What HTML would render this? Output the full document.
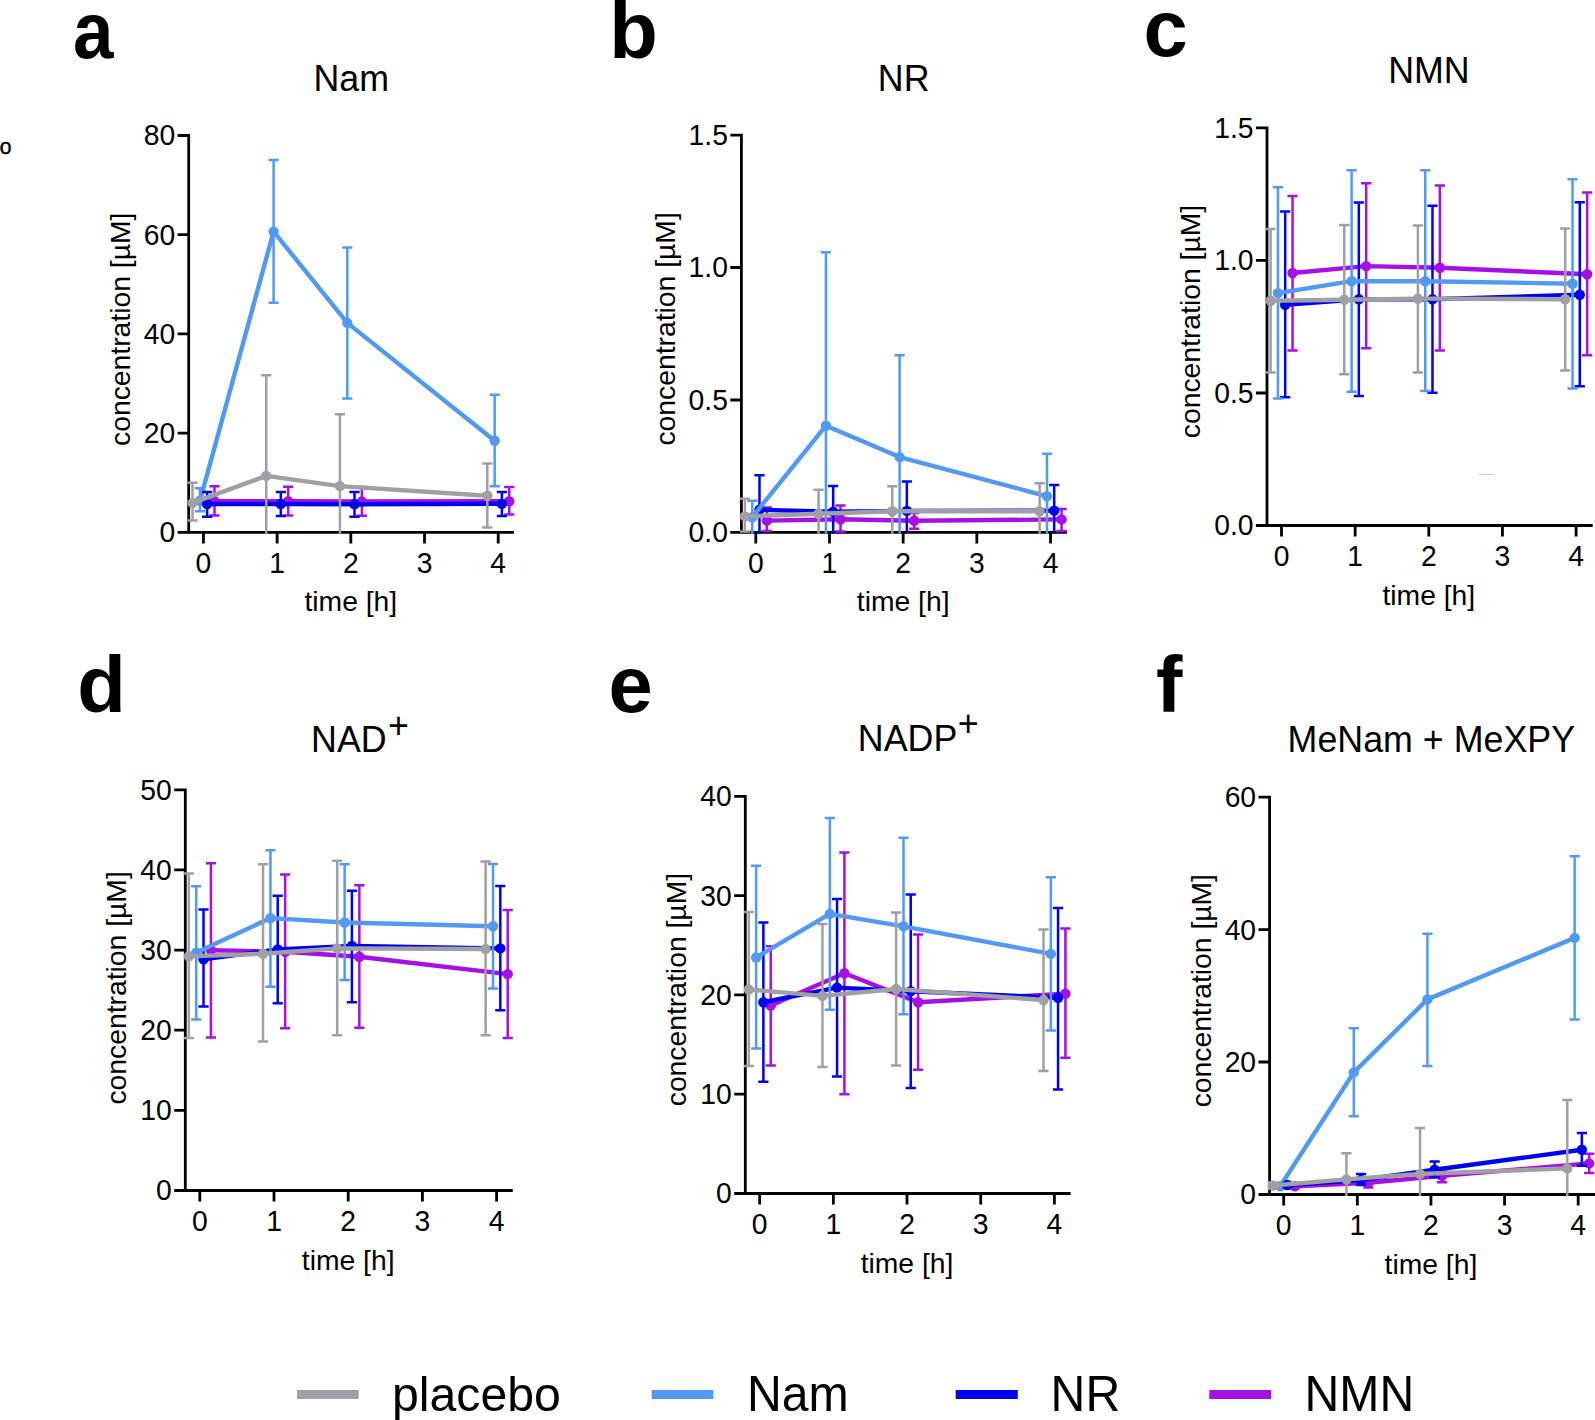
<!DOCTYPE html>
<html lang="en">
<head>
<meta charset="utf-8">
<title>Figure: concentration time courses (Nam, NR, NMN, NAD+, NADP+, MeNam + MeXPY)</title>
<style>
html,body{margin:0;padding:0;background:#fff;}
body{width:1595px;height:1420px;overflow:hidden;font-family:"Liberation Sans",sans-serif;}
svg{display:block;}
</style>
</head>
<body>
<svg width="1595" height="1420" viewBox="0 0 1595 1420" font-family="'Liberation Sans', sans-serif" fill="#000">
<rect width="1595" height="1420" fill="#fff"/>
<g id="panel-a">
<path d="M188.7 134.1V533.8M177.6 532.4H513.9M177.6 532.4H188.7M177.6 433.2H188.7M177.6 333.95H188.7M177.6 234.7H188.7M177.6 135.5H188.7M203.45 532.4V543.5M277.14 532.4V543.5M350.83 532.4V543.5M424.52 532.4V543.5M498.21 532.4V543.5" fill="none" stroke="#000" stroke-width="2.8"/>
<g stroke="#a610e2" fill="#a610e2">
<path d="M214.5 486.3V515.4M209.4 486.3H219.6M209.4 515.4H219.6M288.19 486.8V515.6M283.09 486.8H293.29M283.09 515.6H293.29M361.88 487V515.8M356.78 487H366.98M356.78 515.8H366.98M509.26 487V514.6M504.16 487H514.36M504.16 514.6H514.36" fill="none" stroke-width="2.5"/>
<polyline points="214.5,501.2 288.19,501.2 361.88,501.5 509.26,501.2" fill="none" stroke-width="4.4" stroke-linejoin="round"/>
<circle cx="214.5" cy="501.2" r="5.2" stroke="none"/>
<circle cx="288.19" cy="501.2" r="5.2" stroke="none"/>
<circle cx="361.88" cy="501.5" r="5.2" stroke="none"/>
<circle cx="509.26" cy="501.2" r="5.2" stroke="none"/>
</g>
<g stroke="#5299f2" fill="#5299f2">
<path d="M199.91 488.3V511.2M194.81 488.3H205.01M194.81 511.2H205.01M273.6 160.1V302.8M268.5 160.1H278.7M268.5 302.8H278.7M347.29 247.6V398.6M342.19 247.6H352.39M342.19 398.6H352.39M494.67 394.8V486.3M489.57 394.8H499.77M489.57 486.3H499.77" fill="none" stroke-width="2.5"/>
<polyline points="199.91,500.8 273.6,231.6 347.29,322.9 494.67,440.8" fill="none" stroke-width="4.4" stroke-linejoin="round"/>
<circle cx="199.91" cy="500.8" r="5.2" stroke="none"/>
<circle cx="273.6" cy="231.6" r="5.2" stroke="none"/>
<circle cx="347.29" cy="322.9" r="5.2" stroke="none"/>
<circle cx="494.67" cy="440.8" r="5.2" stroke="none"/>
</g>
<g stroke="#0101ee" fill="#0101ee">
<path d="M207.13 491.9V516.7M202.03 491.9H212.23M202.03 516.7H212.23M280.82 491.9V516M275.72 491.9H285.92M275.72 516H285.92M354.51 491.9V516.7M349.41 491.9H359.61M349.41 516.7H359.61M501.89 491.9V516M496.79 491.9H506.99M496.79 516H506.99" fill="none" stroke-width="2.5"/>
<polyline points="207.13,504 280.82,504 354.51,504.3 501.89,503.7" fill="none" stroke-width="4.4" stroke-linejoin="round"/>
<circle cx="207.13" cy="504" r="5.2" stroke="none"/>
<circle cx="280.82" cy="504" r="5.2" stroke="none"/>
<circle cx="354.51" cy="504.3" r="5.2" stroke="none"/>
<circle cx="501.89" cy="503.7" r="5.2" stroke="none"/>
</g>
<g stroke="#a0a0a4" fill="#a0a0a4">
<path d="M192.54 482.8V520.6M187.44 482.8H197.64M187.44 520.6H197.64M266.23 375.2V533.8M261.13 375.2H271.33M339.92 414.3V533.8M334.82 414.3H345.02M487.3 463.4V527.4M482.2 463.4H492.4M482.2 527.4H492.4" fill="none" stroke-width="2.5"/>
<polyline points="192.54,502.9 266.23,475.9 339.92,486.1 487.3,495.7" fill="none" stroke-width="4.4" stroke-linejoin="round"/>
<circle cx="192.54" cy="502.9" r="5.2" stroke="none"/>
<circle cx="266.23" cy="475.9" r="5.2" stroke="none"/>
<circle cx="339.92" cy="486.1" r="5.2" stroke="none"/>
<circle cx="487.3" cy="495.7" r="5.2" stroke="none"/>
</g>
<g class="ticks">
<text transform="translate(175.2 542.3) scale(0.9569 1)" font-size="29.57" text-anchor="end">0</text>
<text transform="translate(175.2 443.1) scale(0.9569 1)" font-size="29.57" text-anchor="end">20</text>
<text transform="translate(175.2 343.85) scale(0.9569 1)" font-size="29.57" text-anchor="end">40</text>
<text transform="translate(175.2 244.6) scale(0.9569 1)" font-size="29.57" text-anchor="end">60</text>
<text transform="translate(175.2 145.4) scale(0.9569 1)" font-size="29.57" text-anchor="end">80</text>
<text transform="translate(203.45 572.7) scale(0.9569 1)" font-size="29.57" text-anchor="middle">0</text>
<text transform="translate(277.14 572.7) scale(0.9569 1)" font-size="29.57" text-anchor="middle">1</text>
<text transform="translate(350.83 572.7) scale(0.9569 1)" font-size="29.57" text-anchor="middle">2</text>
<text transform="translate(424.52 572.7) scale(0.9569 1)" font-size="29.57" text-anchor="middle">3</text>
<text transform="translate(498.21 572.7) scale(0.9569 1)" font-size="29.57" text-anchor="middle">4</text>
</g>
<text x="350.83" y="611.4" font-size="28.3" text-anchor="middle">time [h]</text>
<text transform="translate(130 329.3) rotate(-90)" font-size="28.3" text-anchor="middle">concentration [µM]</text>
<text transform="translate(351.2 90.6) scale(0.9569 1)" font-size="37.41" text-anchor="middle">Nam</text>
<text transform="translate(73.1 57.9) scale(0.915 1)" font-size="79.5" font-weight="bold">a</text>
</g>
<g id="panel-b">
<path d="M741.4 133.7V533.8M730.3 532.4H1067M730.3 532.4H741.4M730.3 400H741.4M730.3 267.5H741.4M730.3 135.1H741.4M755.8 532.4V543.5M829.48 532.4V543.5M903.16 532.4V543.5M976.84 532.4V543.5M1050.52 532.4V543.5" fill="none" stroke="#000" stroke-width="2.8"/>
<g stroke="#a610e2" fill="#a610e2">
<path d="M766.85 507.6V531M761.75 507.6H771.95M761.75 531H771.95M840.53 505.4V531.6M835.43 505.4H845.63M835.43 531.6H845.63M914.21 513V528.8M909.11 513H919.31M909.11 528.8H919.31M1061.57 509V531M1056.47 509H1066.67M1056.47 531H1066.67" fill="none" stroke-width="2.5"/>
<polyline points="766.85,520.6 840.53,519.2 914.21,520.8 1061.57,519.4" fill="none" stroke-width="4.4" stroke-linejoin="round"/>
<circle cx="766.85" cy="520.6" r="5.2" stroke="none"/>
<circle cx="840.53" cy="519.2" r="5.2" stroke="none"/>
<circle cx="914.21" cy="520.8" r="5.2" stroke="none"/>
<circle cx="1061.57" cy="519.4" r="5.2" stroke="none"/>
</g>
<g stroke="#0101ee" fill="#0101ee">
<path d="M759.48 475.3V533.8M754.38 475.3H764.58M833.16 486.1V533.8M828.06 486.1H838.26M906.84 481.4V533.8M901.74 481.4H911.94M1054.2 485V533.8M1049.1 485H1059.3" fill="none" stroke-width="2.5"/>
<polyline points="759.48,509.8 833.16,511.7 906.84,510.9 1054.2,510.6" fill="none" stroke-width="4.4" stroke-linejoin="round"/>
<circle cx="759.48" cy="509.8" r="5.2" stroke="none"/>
<circle cx="833.16" cy="511.7" r="5.2" stroke="none"/>
<circle cx="906.84" cy="510.9" r="5.2" stroke="none"/>
<circle cx="1054.2" cy="510.6" r="5.2" stroke="none"/>
</g>
<g stroke="#5299f2" fill="#5299f2">
<path d="M752.26 500.7V533.8M747.16 500.7H757.36M825.94 252.3V533.8M820.84 252.3H831.04M899.62 355.2V533.8M894.52 355.2H904.72M1046.98 453.8V533.8M1041.88 453.8H1052.08" fill="none" stroke-width="2.5"/>
<polyline points="752.26,517.2 825.94,425.7 899.62,457.1 1046.98,496.3" fill="none" stroke-width="4.4" stroke-linejoin="round"/>
<circle cx="752.26" cy="517.2" r="5.2" stroke="none"/>
<circle cx="825.94" cy="425.7" r="5.2" stroke="none"/>
<circle cx="899.62" cy="457.1" r="5.2" stroke="none"/>
<circle cx="1046.98" cy="496.3" r="5.2" stroke="none"/>
</g>
<g stroke="#a0a0a4" fill="#a0a0a4">
<path d="M744.9 498.8V531.6M739.8 498.8H750M739.8 531.6H750M818.58 489.7V533.8M813.48 489.7H823.68M892.26 486.3V533.8M887.16 486.3H897.36M1039.62 483.3V533.8M1034.52 483.3H1044.72" fill="none" stroke-width="2.5"/>
<polyline points="744.9,516.4 818.58,513.7 892.26,511.2 1039.62,511.2" fill="none" stroke-width="4.4" stroke-linejoin="round"/>
<circle cx="744.9" cy="516.4" r="5.2" stroke="none"/>
<circle cx="818.58" cy="513.7" r="5.2" stroke="none"/>
<circle cx="892.26" cy="511.2" r="5.2" stroke="none"/>
<circle cx="1039.62" cy="511.2" r="5.2" stroke="none"/>
</g>
<g class="ticks">
<text transform="translate(727.9 542.3) scale(0.9569 1)" font-size="29.57" text-anchor="end">0.0</text>
<text transform="translate(727.9 409.9) scale(0.9569 1)" font-size="29.57" text-anchor="end">0.5</text>
<text transform="translate(727.9 277.4) scale(0.9569 1)" font-size="29.57" text-anchor="end">1.0</text>
<text transform="translate(727.9 145) scale(0.9569 1)" font-size="29.57" text-anchor="end">1.5</text>
<text transform="translate(755.8 572.7) scale(0.9569 1)" font-size="29.57" text-anchor="middle">0</text>
<text transform="translate(829.48 572.7) scale(0.9569 1)" font-size="29.57" text-anchor="middle">1</text>
<text transform="translate(903.16 572.7) scale(0.9569 1)" font-size="29.57" text-anchor="middle">2</text>
<text transform="translate(976.84 572.7) scale(0.9569 1)" font-size="29.57" text-anchor="middle">3</text>
<text transform="translate(1050.52 572.7) scale(0.9569 1)" font-size="29.57" text-anchor="middle">4</text>
</g>
<text x="903.16" y="611.4" font-size="28.3" text-anchor="middle">time [h]</text>
<text transform="translate(675 328.9) rotate(-90)" font-size="28.3" text-anchor="middle">concentration [µM]</text>
<text transform="translate(903.7 90.5) scale(0.9569 1)" font-size="37.41" text-anchor="middle">NR</text>
<text x="609.3" y="57.7" font-size="79.5" font-weight="bold">b</text>
</g>
<g id="panel-c">
<path d="M1267 126.5V526.9M1255.9 525.5H1592.7M1255.9 525.5H1267M1255.9 393H1267M1255.9 260.4H1267M1255.9 127.9H1267M1281.5 525.5V536.6M1355.15 525.5V536.6M1428.8 525.5V536.6M1502.45 525.5V536.6M1576.1 525.5V536.6" fill="none" stroke="#000" stroke-width="2.8"/>
<g stroke="#a610e2" fill="#a610e2">
<path d="M1292.55 196V350.5M1287.45 196H1297.65M1287.45 350.5H1297.65M1366.2 183.3V348.3M1361.1 183.3H1371.3M1361.1 348.3H1371.3M1439.85 185.5V350.5M1434.75 185.5H1444.95M1434.75 350.5H1444.95M1587.15 192.4V355.2M1582.05 192.4H1592.25M1582.05 355.2H1592.25" fill="none" stroke-width="2.5"/>
<polyline points="1292.55,273 1366.2,266.1 1439.85,267.7 1587.15,274.3" fill="none" stroke-width="4.4" stroke-linejoin="round"/>
<circle cx="1292.55" cy="273" r="5.2" stroke="none"/>
<circle cx="1366.2" cy="266.1" r="5.2" stroke="none"/>
<circle cx="1439.85" cy="267.7" r="5.2" stroke="none"/>
<circle cx="1587.15" cy="274.3" r="5.2" stroke="none"/>
</g>
<g stroke="#0101ee" fill="#0101ee">
<path d="M1285.18 211.4V397.2M1280.08 211.4H1290.28M1280.08 397.2H1290.28M1358.83 202.6V395.9M1353.73 202.6H1363.93M1353.73 395.9H1363.93M1432.48 205.7V392.8M1427.38 205.7H1437.58M1427.38 392.8H1437.58M1579.78 202.3V386.2M1574.68 202.3H1584.88M1574.68 386.2H1584.88" fill="none" stroke-width="2.5"/>
<polyline points="1285.18,304.7 1358.83,299.2 1432.48,299.2 1579.78,294.8" fill="none" stroke-width="4.4" stroke-linejoin="round"/>
<circle cx="1285.18" cy="304.7" r="5.2" stroke="none"/>
<circle cx="1358.83" cy="299.2" r="5.2" stroke="none"/>
<circle cx="1432.48" cy="299.2" r="5.2" stroke="none"/>
<circle cx="1579.78" cy="294.8" r="5.2" stroke="none"/>
</g>
<g stroke="#5299f2" fill="#5299f2">
<path d="M1277.96 187.2V398.6M1272.86 187.2H1283.06M1272.86 398.6H1283.06M1351.61 170.3V391.7M1346.51 170.3H1356.71M1346.51 391.7H1356.71M1425.26 170.3V390.9M1420.16 170.3H1430.36M1420.16 390.9H1430.36M1572.56 179.2V388.4M1567.46 179.2H1577.66M1567.46 388.4H1577.66" fill="none" stroke-width="2.5"/>
<polyline points="1277.96,293.1 1351.61,281.2 1425.26,281.2 1572.56,283.7" fill="none" stroke-width="4.4" stroke-linejoin="round"/>
<circle cx="1277.96" cy="293.1" r="5.2" stroke="none"/>
<circle cx="1351.61" cy="281.2" r="5.2" stroke="none"/>
<circle cx="1425.26" cy="281.2" r="5.2" stroke="none"/>
<circle cx="1572.56" cy="283.7" r="5.2" stroke="none"/>
</g>
<g stroke="#a0a0a4" fill="#a0a0a4">
<path d="M1270.6 229.1V372.4M1265.5 229.1H1275.7M1265.5 372.4H1275.7M1344.25 225V374.3M1339.15 225H1349.35M1339.15 374.3H1349.35M1417.9 225.5V372.4M1412.8 225.5H1423M1412.8 372.4H1423M1565.2 228.6V370.5M1560.1 228.6H1570.3M1560.1 370.5H1570.3" fill="none" stroke-width="2.5"/>
<polyline points="1270.6,300.8 1344.25,299.7 1417.9,298.6 1565.2,299.2" fill="none" stroke-width="4.4" stroke-linejoin="round"/>
<circle cx="1270.6" cy="300.8" r="5.2" stroke="none"/>
<circle cx="1344.25" cy="299.7" r="5.2" stroke="none"/>
<circle cx="1417.9" cy="298.6" r="5.2" stroke="none"/>
<circle cx="1565.2" cy="299.2" r="5.2" stroke="none"/>
</g>
<g class="ticks">
<text transform="translate(1253.5 535.4) scale(0.9569 1)" font-size="29.57" text-anchor="end">0.0</text>
<text transform="translate(1253.5 402.9) scale(0.9569 1)" font-size="29.57" text-anchor="end">0.5</text>
<text transform="translate(1253.5 270.3) scale(0.9569 1)" font-size="29.57" text-anchor="end">1.0</text>
<text transform="translate(1253.5 137.8) scale(0.9569 1)" font-size="29.57" text-anchor="end">1.5</text>
<text transform="translate(1281.5 565.8) scale(0.9569 1)" font-size="29.57" text-anchor="middle">0</text>
<text transform="translate(1355.15 565.8) scale(0.9569 1)" font-size="29.57" text-anchor="middle">1</text>
<text transform="translate(1428.8 565.8) scale(0.9569 1)" font-size="29.57" text-anchor="middle">2</text>
<text transform="translate(1502.45 565.8) scale(0.9569 1)" font-size="29.57" text-anchor="middle">3</text>
<text transform="translate(1576.1 565.8) scale(0.9569 1)" font-size="29.57" text-anchor="middle">4</text>
</g>
<text x="1428.8" y="604.5" font-size="28.3" text-anchor="middle">time [h]</text>
<text transform="translate(1200.4 321.5) rotate(-90)" font-size="28.3" text-anchor="middle">concentration [µM]</text>
<text transform="translate(1428.9 83.3) scale(0.9569 1)" font-size="37.41" text-anchor="middle">NMN</text>
<text x="1143.4" y="55.9" font-size="79.5" font-weight="bold">c</text>
</g>
<g id="panel-d">
<path d="M185.3 788.4V1191.9M174.2 1190.5H512.8M174.2 1190.5H185.3M174.2 1110.35H185.3M174.2 1030.2H185.3M174.2 950.1H185.3M174.2 869.95H185.3M174.2 789.8H185.3M199.8 1190.5V1201.6M274 1190.5V1201.6M348.2 1190.5V1201.6M422.4 1190.5V1201.6M496.6 1190.5V1201.6" fill="none" stroke="#000" stroke-width="2.8"/>
<g stroke="#a610e2" fill="#a610e2">
<path d="M210.93 863.2V1037.4M205.83 863.2H216.03M205.83 1037.4H216.03M285.13 874.5V1028.3M280.03 874.5H290.23M280.03 1028.3H290.23M359.33 885.2V1027.7M354.23 885.2H364.43M354.23 1027.7H364.43M507.73 910.1V1037.9M502.63 910.1H512.83M502.63 1037.9H512.83" fill="none" stroke-width="2.5"/>
<polyline points="210.93,950.3 285.13,951.7 359.33,956.7 507.73,974.1" fill="none" stroke-width="4.4" stroke-linejoin="round"/>
<circle cx="210.93" cy="950.3" r="5.2" stroke="none"/>
<circle cx="285.13" cy="951.7" r="5.2" stroke="none"/>
<circle cx="359.33" cy="956.7" r="5.2" stroke="none"/>
<circle cx="507.73" cy="974.1" r="5.2" stroke="none"/>
</g>
<g stroke="#0101ee" fill="#0101ee">
<path d="M203.51 909.5V1006.6M198.41 909.5H208.61M198.41 1006.6H208.61M277.71 895.7V1003.3M272.61 895.7H282.81M272.61 1003.3H282.81M351.91 890.8V1002.2M346.81 890.8H357.01M346.81 1002.2H357.01M500.31 886.1V1010.2M495.21 886.1H505.41M495.21 1010.2H505.41" fill="none" stroke-width="2.5"/>
<polyline points="203.51,959.2 277.71,949.5 351.91,945.9 500.31,948.4" fill="none" stroke-width="4.4" stroke-linejoin="round"/>
<circle cx="203.51" cy="959.2" r="5.2" stroke="none"/>
<circle cx="277.71" cy="949.5" r="5.2" stroke="none"/>
<circle cx="351.91" cy="945.9" r="5.2" stroke="none"/>
<circle cx="500.31" cy="948.4" r="5.2" stroke="none"/>
</g>
<g stroke="#5299f2" fill="#5299f2">
<path d="M196.24 886.3V1019.5M191.14 886.3H201.34M191.14 1019.5H201.34M270.44 850.2V986.8M265.34 850.2H275.54M265.34 986.8H275.54M344.64 864.3V979.9M339.54 864.3H349.74M339.54 979.9H349.74M493.04 864V988.4M487.94 864H498.14M487.94 988.4H498.14" fill="none" stroke-width="2.5"/>
<polyline points="196.24,952.6 270.44,918.1 344.64,922.5 493.04,926.3" fill="none" stroke-width="4.4" stroke-linejoin="round"/>
<circle cx="196.24" cy="952.6" r="5.2" stroke="none"/>
<circle cx="270.44" cy="918.1" r="5.2" stroke="none"/>
<circle cx="344.64" cy="922.5" r="5.2" stroke="none"/>
<circle cx="493.04" cy="926.3" r="5.2" stroke="none"/>
</g>
<g stroke="#a0a0a4" fill="#a0a0a4">
<path d="M188.82 873.4V1037.9M183.72 873.4H193.92M183.72 1037.9H193.92M263.02 864.3V1041.5M257.92 864.3H268.12M257.92 1041.5H268.12M337.22 860.7V1035.2M332.12 860.7H342.32M332.12 1035.2H342.32M485.62 861.5V1035.2M480.52 861.5H490.72M480.52 1035.2H490.72" fill="none" stroke-width="2.5"/>
<polyline points="188.82,956.4 263.02,953.7 337.22,948.4 485.62,949" fill="none" stroke-width="4.4" stroke-linejoin="round"/>
<circle cx="188.82" cy="956.4" r="5.2" stroke="none"/>
<circle cx="263.02" cy="953.7" r="5.2" stroke="none"/>
<circle cx="337.22" cy="948.4" r="5.2" stroke="none"/>
<circle cx="485.62" cy="949" r="5.2" stroke="none"/>
</g>
<g class="ticks">
<text transform="translate(171.8 1200.4) scale(0.9569 1)" font-size="29.57" text-anchor="end">0</text>
<text transform="translate(171.8 1120.25) scale(0.9569 1)" font-size="29.57" text-anchor="end">10</text>
<text transform="translate(171.8 1040.1) scale(0.9569 1)" font-size="29.57" text-anchor="end">20</text>
<text transform="translate(171.8 960) scale(0.9569 1)" font-size="29.57" text-anchor="end">30</text>
<text transform="translate(171.8 879.85) scale(0.9569 1)" font-size="29.57" text-anchor="end">40</text>
<text transform="translate(171.8 799.7) scale(0.9569 1)" font-size="29.57" text-anchor="end">50</text>
<text transform="translate(199.8 1230.8) scale(0.9569 1)" font-size="29.57" text-anchor="middle">0</text>
<text transform="translate(274 1230.8) scale(0.9569 1)" font-size="29.57" text-anchor="middle">1</text>
<text transform="translate(348.2 1230.8) scale(0.9569 1)" font-size="29.57" text-anchor="middle">2</text>
<text transform="translate(422.4 1230.8) scale(0.9569 1)" font-size="29.57" text-anchor="middle">3</text>
<text transform="translate(496.6 1230.8) scale(0.9569 1)" font-size="29.57" text-anchor="middle">4</text>
</g>
<text x="348.2" y="1269.5" font-size="28.3" text-anchor="middle">time [h]</text>
<text transform="translate(125.75 987.9) rotate(-90)" font-size="28.3" text-anchor="middle">concentration [µM]</text>
<text transform="translate(360 752.4) scale(0.9569 1)" font-size="37.41" text-anchor="middle">NAD<tspan dy="-14.7" dx="1.5">+</tspan></text>
<text x="77.3" y="711.8" font-size="79.5" font-weight="bold">d</text>
</g>
<g id="panel-e">
<path d="M745.3 795V1194.9M734.2 1193.5H1070.6M734.2 1193.5H745.3M734.2 1094.2H745.3M734.2 994.95H745.3M734.2 895.7H745.3M734.2 796.4H745.3M759.7 1193.5V1204.6M833.37 1193.5V1204.6M907.04 1193.5V1204.6M980.71 1193.5V1204.6M1054.38 1193.5V1204.6" fill="none" stroke="#000" stroke-width="2.8"/>
<g stroke="#a610e2" fill="#a610e2">
<path d="M770.75 946.2V1065.5M765.65 946.2H775.85M765.65 1065.5H775.85M844.42 852.4V1094.2M839.32 852.4H849.52M839.32 1094.2H849.52M918.09 934.6V1069.7M912.99 934.6H923.19M912.99 1069.7H923.19M1065.43 928.6V1057.8M1060.33 928.6H1070.53M1060.33 1057.8H1070.53" fill="none" stroke-width="2.5"/>
<polyline points="770.75,1005.5 844.42,973.2 918.09,1002.2 1065.43,993.7" fill="none" stroke-width="4.4" stroke-linejoin="round"/>
<circle cx="770.75" cy="1005.5" r="5.2" stroke="none"/>
<circle cx="844.42" cy="973.2" r="5.2" stroke="none"/>
<circle cx="918.09" cy="1002.2" r="5.2" stroke="none"/>
<circle cx="1065.43" cy="993.7" r="5.2" stroke="none"/>
</g>
<g stroke="#0101ee" fill="#0101ee">
<path d="M763.38 922.5V1081.8M758.28 922.5H768.48M758.28 1081.8H768.48M837.05 899V1076.6M831.95 899H842.15M831.95 1076.6H842.15M910.72 894.6V1087.9M905.62 894.6H915.82M905.62 1087.9H915.82M1058.06 907.9V1089.5M1052.96 907.9H1063.16M1052.96 1089.5H1063.16" fill="none" stroke-width="2.5"/>
<polyline points="763.38,1002.2 837.05,987.6 910.72,991.2 1058.06,997.8" fill="none" stroke-width="4.4" stroke-linejoin="round"/>
<circle cx="763.38" cy="1002.2" r="5.2" stroke="none"/>
<circle cx="837.05" cy="987.6" r="5.2" stroke="none"/>
<circle cx="910.72" cy="991.2" r="5.2" stroke="none"/>
<circle cx="1058.06" cy="997.8" r="5.2" stroke="none"/>
</g>
<g stroke="#5299f2" fill="#5299f2">
<path d="M756.16 865.7V1048.4M751.06 865.7H761.26M751.06 1048.4H761.26M829.83 817.9V1009.7M824.73 817.9H834.93M824.73 1009.7H834.93M903.5 837.8V1014.3M898.4 837.8H908.6M898.4 1014.3H908.6M1050.84 877.2V1030.5M1045.74 877.2H1055.94M1045.74 1030.5H1055.94" fill="none" stroke-width="2.5"/>
<polyline points="756.16,957.5 829.83,913.9 903.5,926.3 1050.84,953.9" fill="none" stroke-width="4.4" stroke-linejoin="round"/>
<circle cx="756.16" cy="957.5" r="5.2" stroke="none"/>
<circle cx="829.83" cy="913.9" r="5.2" stroke="none"/>
<circle cx="903.5" cy="926.3" r="5.2" stroke="none"/>
<circle cx="1050.84" cy="953.9" r="5.2" stroke="none"/>
</g>
<g stroke="#a0a0a4" fill="#a0a0a4">
<path d="M748.8 912V1066.1M743.7 912H753.9M743.7 1066.1H753.9M822.47 923.9V1066.9M817.37 923.9H827.57M817.37 1066.9H827.57M896.14 912.6V1065.5M891.04 912.6H901.24M891.04 1065.5H901.24M1043.48 929.4V1071M1038.38 929.4H1048.58M1038.38 1071H1048.58" fill="none" stroke-width="2.5"/>
<polyline points="748.8,989.5 822.47,995.9 896.14,989 1043.48,1000" fill="none" stroke-width="4.4" stroke-linejoin="round"/>
<circle cx="748.8" cy="989.5" r="5.2" stroke="none"/>
<circle cx="822.47" cy="995.9" r="5.2" stroke="none"/>
<circle cx="896.14" cy="989" r="5.2" stroke="none"/>
<circle cx="1043.48" cy="1000" r="5.2" stroke="none"/>
</g>
<g class="ticks">
<text transform="translate(731.8 1203.4) scale(0.9569 1)" font-size="29.57" text-anchor="end">0</text>
<text transform="translate(731.8 1104.1) scale(0.9569 1)" font-size="29.57" text-anchor="end">10</text>
<text transform="translate(731.8 1004.85) scale(0.9569 1)" font-size="29.57" text-anchor="end">20</text>
<text transform="translate(731.8 905.6) scale(0.9569 1)" font-size="29.57" text-anchor="end">30</text>
<text transform="translate(731.8 806.3) scale(0.9569 1)" font-size="29.57" text-anchor="end">40</text>
<text transform="translate(759.7 1233.8) scale(0.9569 1)" font-size="29.57" text-anchor="middle">0</text>
<text transform="translate(833.37 1233.8) scale(0.9569 1)" font-size="29.57" text-anchor="middle">1</text>
<text transform="translate(907.04 1233.8) scale(0.9569 1)" font-size="29.57" text-anchor="middle">2</text>
<text transform="translate(980.71 1233.8) scale(0.9569 1)" font-size="29.57" text-anchor="middle">3</text>
<text transform="translate(1054.38 1233.8) scale(0.9569 1)" font-size="29.57" text-anchor="middle">4</text>
</g>
<text x="907.04" y="1272.5" font-size="28.3" text-anchor="middle">time [h]</text>
<text transform="translate(685.95 989.6) rotate(-90)" font-size="28.3" text-anchor="middle">concentration [µM]</text>
<text transform="translate(918.3 751.4) scale(0.9569 1)" font-size="37.41" text-anchor="middle">NADP<tspan dy="-15.2" dx="0.6">+</tspan></text>
<text x="608.5" y="711.9" font-size="79.5" font-weight="bold">e</text>
</g>
<g id="panel-f">
<path d="M1269.6 795.7V1195.9M1258.5 1194.5H1597M1258.5 1194.5H1269.6M1258.5 1062H1269.6M1258.5 929.6H1269.6M1258.5 797.1H1269.6M1283.7 1194.5V1205.6M1357.32 1194.5V1205.6M1430.94 1194.5V1205.6M1504.56 1194.5V1205.6M1578.18 1194.5V1205.6" fill="none" stroke="#000" stroke-width="2.8"/>
<g stroke="#a610e2" fill="#a610e2">
<path d="M1294.74 1184.3V1188.3M1289.64 1184.3H1299.84M1289.64 1188.3H1299.84M1368.36 1178.6V1187.4M1363.26 1178.6H1373.46M1363.26 1187.4H1373.46M1441.98 1170.3V1182.2M1436.88 1170.3H1447.08M1436.88 1182.2H1447.08M1589.22 1153.8V1173.1M1584.12 1153.8H1594.32M1584.12 1173.1H1594.32" fill="none" stroke-width="2.5"/>
<polyline points="1294.74,1186.3 1368.36,1182.8 1441.98,1175.9 1589.22,1163.4" fill="none" stroke-width="4.4" stroke-linejoin="round"/>
<circle cx="1294.74" cy="1186.3" r="5.2" stroke="none"/>
<circle cx="1368.36" cy="1182.8" r="5.2" stroke="none"/>
<circle cx="1441.98" cy="1175.9" r="5.2" stroke="none"/>
<circle cx="1589.22" cy="1163.4" r="5.2" stroke="none"/>
</g>
<g stroke="#5299f2" fill="#5299f2">
<path d="M1280.17 1184V1188.6M1275.07 1184H1285.27M1275.07 1188.6H1285.27M1353.79 1028.3V1116.3M1348.69 1028.3H1358.89M1348.69 1116.3H1358.89M1427.41 933.8V1066.1M1422.31 933.8H1432.51M1422.31 1066.1H1432.51M1574.65 856.3V1019.5M1569.55 856.3H1579.75M1569.55 1019.5H1579.75" fill="none" stroke-width="2.5"/>
<polyline points="1280.17,1186.3 1353.79,1072.4 1427.41,999.4 1574.65,937.9" fill="none" stroke-width="4.4" stroke-linejoin="round"/>
<circle cx="1280.17" cy="1186.3" r="5.2" stroke="none"/>
<circle cx="1353.79" cy="1072.4" r="5.2" stroke="none"/>
<circle cx="1427.41" cy="999.4" r="5.2" stroke="none"/>
<circle cx="1574.65" cy="937.9" r="5.2" stroke="none"/>
</g>
<g stroke="#0101ee" fill="#0101ee">
<path d="M1287.38 1183V1187M1282.28 1183H1292.48M1282.28 1187H1292.48M1361 1174V1185M1355.9 1174H1366.1M1355.9 1185H1366.1M1434.62 1161.5V1177.2M1429.52 1161.5H1439.72M1429.52 1177.2H1439.72M1581.86 1133.1V1165.7M1576.76 1133.1H1586.96M1576.76 1165.7H1586.96" fill="none" stroke-width="2.5"/>
<polyline points="1287.38,1185 1361,1180 1434.62,1169.8 1581.86,1149.7" fill="none" stroke-width="4.4" stroke-linejoin="round"/>
<circle cx="1287.38" cy="1185" r="5.2" stroke="none"/>
<circle cx="1361" cy="1180" r="5.2" stroke="none"/>
<circle cx="1434.62" cy="1169.8" r="5.2" stroke="none"/>
<circle cx="1581.86" cy="1149.7" r="5.2" stroke="none"/>
</g>
<g stroke="#a0a0a4" fill="#a0a0a4">
<path d="M1272.8 1182.5V1188.5M1267.7 1182.5H1277.9M1267.7 1188.5H1277.9M1346.42 1153.2V1195.9M1341.32 1153.2H1351.52M1420.04 1128.1V1195.9M1414.94 1128.1H1425.14M1567.28 1100V1195.9M1562.18 1100H1572.38" fill="none" stroke-width="2.5"/>
<polyline points="1272.8,1185.5 1346.42,1179.4 1420.04,1173.9 1567.28,1168.4" fill="none" stroke-width="4.4" stroke-linejoin="round"/>
<circle cx="1272.8" cy="1185.5" r="5.2" stroke="none"/>
<circle cx="1346.42" cy="1179.4" r="5.2" stroke="none"/>
<circle cx="1420.04" cy="1173.9" r="5.2" stroke="none"/>
<circle cx="1567.28" cy="1168.4" r="5.2" stroke="none"/>
</g>
<g class="ticks">
<text transform="translate(1256.1 1204.4) scale(0.9569 1)" font-size="29.57" text-anchor="end">0</text>
<text transform="translate(1256.1 1071.9) scale(0.9569 1)" font-size="29.57" text-anchor="end">20</text>
<text transform="translate(1256.1 939.5) scale(0.9569 1)" font-size="29.57" text-anchor="end">40</text>
<text transform="translate(1256.1 807) scale(0.9569 1)" font-size="29.57" text-anchor="end">60</text>
<text transform="translate(1283.7 1234.8) scale(0.9569 1)" font-size="29.57" text-anchor="middle">0</text>
<text transform="translate(1357.32 1234.8) scale(0.9569 1)" font-size="29.57" text-anchor="middle">1</text>
<text transform="translate(1430.94 1234.8) scale(0.9569 1)" font-size="29.57" text-anchor="middle">2</text>
<text transform="translate(1504.56 1234.8) scale(0.9569 1)" font-size="29.57" text-anchor="middle">3</text>
<text transform="translate(1578.18 1234.8) scale(0.9569 1)" font-size="29.57" text-anchor="middle">4</text>
</g>
<text x="1430.94" y="1273.5" font-size="28.3" text-anchor="middle">time [h]</text>
<text transform="translate(1210.95 990.7) rotate(-90)" font-size="28.3" text-anchor="middle">concentration [µM]</text>
<text transform="translate(1431.3 752.4) scale(0.9569 1)" font-size="37.41" text-anchor="middle">MeNam + MeXPY</text>
<text x="1156" y="711.8" font-size="79.5" font-weight="bold">f</text>
</g>
<text x="-10.9" y="153.7" font-size="21.2" letter-spacing="-1.1" stroke="#000" stroke-width="0.35">bo</text>
<path d="M1478.5 474.5H1493.5" stroke="#8890b8" stroke-width="0.7" opacity="0.65"/>
<g id="legend">
<path d="M297 1394.5H358.7" stroke="#a0a0a4" stroke-width="8.8"/>
<text x="392" y="1410.5" font-size="48.2">placebo</text>
<path d="M651.7 1394.5H713.4" stroke="#5299f2" stroke-width="8.8"/>
<text transform="translate(747 1410.5) scale(0.9569 1)" font-size="50.37">Nam</text>
<path d="M955.7 1394.5H1017.8" stroke="#0101ee" stroke-width="8.8"/>
<text transform="translate(1050.6 1410.5) scale(0.9569 1)" font-size="50.37">NR</text>
<path d="M1209.3 1394.5H1271" stroke="#a610e2" stroke-width="8.8"/>
<text transform="translate(1304.5 1410.5) scale(0.9569 1)" font-size="50.37">NMN</text>
</g>
</svg>
</body>
</html>
